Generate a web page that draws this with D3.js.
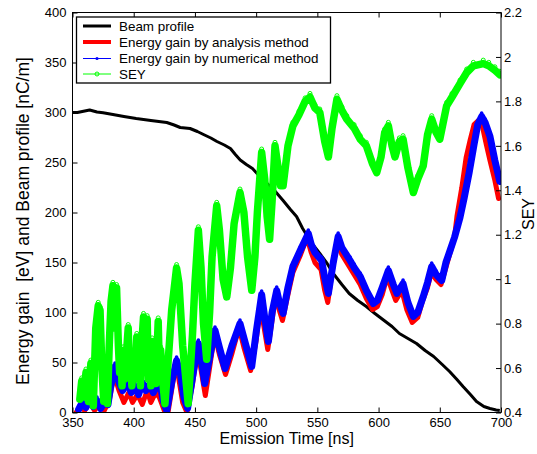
<!DOCTYPE html>
<html><head><meta charset="utf-8">
<script src="https://cdn.jsdelivr.net/npm/d3@7"></script>
<style>
body{margin:0;background:#fff}
text{font-family:"Liberation Sans",Arial,Helvetica,sans-serif;fill:#000}
</style>
</head><body>
<svg id="chart" width="537" height="454"></svg>
<script>
// ---------------- data ----------------
const xTicks = [350, 400, 450, 500, 550, 600, 650, 700];
const yLeftTicks = [0, 50, 100, 150, 200, 250, 300, 350, 400];
const yRightTicks = [0.4, 0.6, 0.8, 1.0, 1.2, 1.4, 1.6, 1.8, 2.0, 2.2];
const legendLabels = ["Beam profile", "Energy gain by analysis method", "Energy gain by numerical method", "SEY"];

// Beam profile [nC/m] (left axis)
const beamT = [350, 354, 358, 364, 370, 375, 383, 392, 402, 414, 427, 433, 438, 446, 452, 457, 463, 468, 474, 479, 483, 487, 492, 497, 500, 503, 509, 515, 522, 528, 533, 538, 545, 552, 558, 563, 570, 576, 583, 590, 597, 604, 611, 617, 624, 631, 638, 645, 652, 658, 664, 669, 675, 680, 686, 691, 696, 699];
const beamV = [300, 300, 301, 302.5, 300.5, 299.8, 298, 296, 294, 292, 290, 287.5, 285, 284, 281, 278, 274.5, 271, 267.5, 264, 258, 252.5, 248, 244, 240, 236, 229, 222, 212, 203, 196, 184, 170, 159, 149, 139, 128, 119, 112, 106, 99, 92.5, 86, 79, 74, 69, 62, 56, 48, 41, 33, 26, 18, 11, 6, 4, 2.5, 2];

// Energy gain by analysis method [eV] (left axis)
const redT = [353, 356, 360, 364, 368, 372, 376, 380, 384, 388, 392, 396, 399, 403, 407, 411, 414, 418, 421, 425, 428, 433, 436, 440, 443.5, 448, 452, 454, 458.5, 462, 466, 470, 475, 480, 486, 490, 495.5, 500, 503.5, 506.5, 509.5, 513, 516, 519, 521.5, 526, 530, 536, 541.5, 545, 548, 553, 556, 558.5, 562, 566, 570, 576, 580, 585, 590, 595, 599, 603, 607, 611, 614, 619, 623, 627.5, 632, 636, 640, 643, 647, 651, 655, 658, 662, 664, 668, 671.5, 674.7, 678, 681.5, 685, 688, 691, 695, 698];
const redV = [0, 6, 2, 10, 2, 8, 2, 12, 38, 22, 10, 20, 10, 18, 8, 22, 10, 20, 15, 2, 0, 38, 40, 10, 0, 28, 62, 50, 17, 45, 78, 58, 38, 58, 85, 65, 42, 72, 108, 85, 63, 92, 118, 102, 92, 118, 140, 157, 175, 160, 150, 143, 122, 110, 140, 170, 158, 146, 138, 128, 114, 103, 106, 118, 136, 122, 112, 122, 103, 90, 95, 112, 125, 140, 133, 128, 145, 158, 175, 196, 225, 255, 272, 288, 292, 285, 268, 252, 232, 214];

// Energy gain by numerical method [eV] (left axis)
const blueT = [355, 358, 361, 364, 367, 370, 373, 376, 379, 381, 384.7, 388, 391, 395, 398, 401, 404, 407, 410, 413, 416, 419, 421.5, 424, 427, 431, 435, 438, 441, 444, 448, 452.8, 455, 458, 462, 466.4, 470, 474.6, 480, 486.8, 491, 496.4, 500, 504.5, 507, 510, 513, 516.8, 519, 522, 526, 530, 536, 542.6, 545, 548, 553.5, 556, 559, 563, 567, 570, 576.7, 580, 585, 590, 595.7, 599, 603, 608, 612, 615, 620, 624, 628.4, 632, 636.5, 640, 643.4, 647, 651.6, 655, 658.4, 662, 666.5, 670, 674, 678, 681, 684.2, 687, 691, 695, 699];
const blueV = [3, 10, 5, 14, 6, 12, 4, 10, 8, 25, 46, 30, 22, 30, 20, 26, 18, 30, 22, 28, 20, 27, 29, 12, 2, 30, 52, 40, 15, 4, 35, 69, 55, 29, 55, 82, 65, 44, 66, 89, 70, 46, 80, 118, 95, 71, 100, 122, 110, 99, 125, 146, 162, 179, 168, 160, 152, 135, 119, 150, 176, 165, 152, 145, 136, 122, 109, 112, 125, 142, 128, 119, 129, 110, 96, 100, 116, 130, 146, 138, 132, 150, 162, 175, 195, 215, 240, 268, 288, 296, 290, 276, 252, 231];

// SEY (right axis)
const seyT = [356, 357.5, 359, 361, 363, 365, 367, 369, 371, 372.5, 374, 375.5, 377, 378.5, 380, 381.5, 383, 384.5, 386, 387.5, 388.5, 389.5, 390.5, 391.5, 392.5, 393.5, 395.5, 396.5, 397.5, 398.5, 400, 401, 402.5, 403.5, 404.5, 405.5, 406.5, 408, 409, 410, 411, 412, 413, 414, 415, 416, 417, 418, 420, 421, 422, 423.5, 425.5, 428, 431, 435, 437, 440, 444.5, 448, 450, 452.8, 455, 457, 459.6, 462, 464, 467.8, 470, 473, 476, 479, 482, 486.8, 490, 493, 496.4, 499, 501, 504.5, 507, 509, 511, 513, 515.4, 518, 520, 522, 526, 530, 535, 540, 544, 548, 552, 556, 559, 562, 566, 570, 574, 580, 585, 590, 595, 598.5, 602, 605, 608, 611, 613.4, 617, 620, 624, 628.4, 632, 636.5, 640, 643.4, 647, 650, 655.6, 660, 666.5, 672, 677.4, 685.5, 690, 695, 699];
const seyV = [0.46, 0.54, 0.47, 0.58, 0.45, 0.62, 0.43, 0.78, 0.88, 0.86, 0.60, 0.45, 0.62, 0.44, 0.70, 0.90, 0.97, 0.78, 0.96, 0.70, 0.58, 0.66, 0.52, 0.68, 0.55, 0.62, 0.78, 0.58, 0.66, 0.52, 0.64, 0.56, 0.74, 0.55, 0.62, 0.52, 0.70, 0.83, 0.58, 0.70, 0.82, 0.55, 0.66, 0.52, 0.72, 0.56, 0.66, 0.53, 0.81, 0.58, 0.68, 0.55, 0.44, 0.62, 0.86, 1.05, 0.98, 0.70, 0.44, 0.75, 0.98, 1.22, 1.05, 0.80, 0.64, 0.85, 1.10, 1.33, 1.22, 1.00, 0.92, 1.05, 1.25, 1.39, 1.30, 1.10, 0.95, 1.10, 1.30, 1.57, 1.45, 1.28, 1.18, 1.35, 1.60, 1.50, 1.42, 1.42, 1.60, 1.69, 1.74, 1.80, 1.82, 1.77, 1.75, 1.62, 1.55, 1.68, 1.81, 1.76, 1.72, 1.68, 1.63, 1.60, 1.52, 1.48, 1.55, 1.66, 1.69, 1.60, 1.55, 1.62, 1.63, 1.50, 1.39, 1.45, 1.51, 1.65, 1.72, 1.66, 1.63, 1.78, 1.82, 1.88, 1.93, 1.96, 1.97, 1.96, 1.94, 1.92];

// ---------------- drawing ----------------
const W = 537, H = 454;
const plot = {left: 72.5, right: 501, top: 12.5, bottom: 412.5};
const svg = d3.select("#chart");

const x = d3.scaleLinear().domain([350, 700]).range([plot.left, plot.right]);
const yL = d3.scaleLinear().domain([0, 400]).range([plot.bottom, plot.top]);
const yR = d3.scaleLinear().domain([0.4, 2.2]).range([plot.bottom, plot.top]);

svg.append("rect").attr("width", W).attr("height", H).attr("fill", "#fff");

svg.append("defs").append("clipPath").attr("id", "clip")
  .append("rect").attr("x", plot.left).attr("y", plot.top - 2)
  .attr("width", plot.right - plot.left).attr("height", plot.bottom - plot.top + 2);

const zip = (a, b) => a.map((v, i) => [v, b[i]]);
const beam = zip(beamT, beamV), red = zip(redT, redV), blue = zip(blueT, blueV), sey = zip(seyT, seyV);

const lineL = d3.line().x(d => x(d[0])).y(d => yL(d[1]));
const lineR = d3.line().x(d => x(d[0])).y(d => yR(d[1]));

const g = svg.append("g").attr("clip-path", "url(#clip)");

g.append("path").datum(beam).attr("d", lineL)
  .attr("fill", "none").attr("stroke", "#000").attr("stroke-width", 3)
  .attr("stroke-linejoin", "round");

g.append("path").datum(red).attr("d", lineL)
  .attr("fill", "none").attr("stroke", "#ff0000").attr("stroke-width", 5)
  .attr("stroke-linejoin", "round").attr("stroke-linecap", "round");

g.append("path").datum(blue).attr("d", lineL)
  .attr("fill", "none").attr("stroke", "#0000ff").attr("stroke-width", 7)
  .attr("stroke-linejoin", "round").attr("stroke-linecap", "round");
g.selectAll("circle.bdot").data(blue).enter().append("circle").attr("class", "bdot")
  .attr("cx", d => x(d[0])).attr("cy", d => yL(d[1]) - 3.5).attr("r", 1.8).attr("fill", "#0000ff");

g.append("path").datum(sey).attr("d", lineR)
  .attr("fill", "none").attr("stroke", "#00ff00").attr("stroke-width", 7.5)
  .attr("stroke-linejoin", "round").attr("stroke-linecap", "round");
g.selectAll("circle.gdot").data(sey).enter().append("circle").attr("class", "gdot")
  .attr("cx", d => x(d[0])).attr("cy", d => yR(d[1]) - 3.5).attr("r", 2)
  .attr("fill", "none").attr("stroke", "#00ff00").attr("stroke-width", 1);

// ---------------- axes ----------------
const tickFont = "13px";
function styleAxis(sel) {
  sel.select(".domain").remove();
  sel.selectAll(".tick line").attr("stroke", "#000").attr("stroke-width", 1);
  sel.selectAll(".tick text").style("font-size", tickFont).attr("fill", "#000");
}

svg.append("g").attr("transform", `translate(0,${plot.bottom})`)
  .call(d3.axisBottom(x).tickValues(xTicks).tickSize(-5).tickPadding(5).tickFormat(d3.format("d")))
  .call(styleAxis);
svg.append("g").attr("transform", `translate(0,${plot.top})`)
  .call(d3.axisTop(x).tickValues(xTicks).tickSize(-5).tickFormat(""))
  .call(styleAxis);
svg.append("g").attr("transform", `translate(${plot.left},0)`)
  .call(d3.axisLeft(yL).tickValues(yLeftTicks).tickSize(-5).tickPadding(6).tickFormat(d3.format("d")))
  .call(styleAxis);
svg.append("g").attr("transform", `translate(${plot.right},0)`)
  .call(d3.axisRight(yR).tickValues(yRightTicks).tickSize(-5).tickPadding(3).tickFormat(d => String(+d.toFixed(1))))
  .call(styleAxis);

svg.append("rect").attr("x", plot.left).attr("y", plot.top)
  .attr("width", plot.right - plot.left).attr("height", plot.bottom - plot.top)
  .attr("fill", "none").attr("stroke", "#000").attr("stroke-width", 1);

// axis labels
svg.append("text").attr("x", (plot.left + plot.right) / 2).attr("y", 444)
  .attr("text-anchor", "middle").style("font-size", "16px").text("Emission Time [ns]");
svg.append("text").attr("transform", "translate(29,221) rotate(-90)")
  .attr("text-anchor", "middle").style("font-size", "17.5px").attr("xml:space", "preserve")
  .text("Energy gain  [eV] and Beam profile [nC/m]");
svg.append("text").attr("transform", "translate(534,214) rotate(-90)")
  .attr("text-anchor", "middle").style("font-size", "16px").text("SEY");

// ---------------- legend ----------------
const lg = svg.append("g");
lg.append("rect").attr("x", 76.5).attr("y", 17).attr("width", 254).attr("height", 66)
  .attr("fill", "#fff").attr("stroke", "#000").attr("stroke-width", 1.3);
const rowY = [26, 42, 58.5, 74];
const lStyles = [
  {c: "#000", w: 3}, {c: "#ff0000", w: 4}, {c: "#0000ff", w: 1}, {c: "#00ff00", w: 1}
];
legendLabels.forEach((lab, i) => {
  lg.append("line").attr("x1", 83).attr("x2", 111).attr("y1", rowY[i]).attr("y2", rowY[i])
    .attr("stroke", lStyles[i].c).attr("stroke-width", lStyles[i].w);
  lg.append("text").attr("x", 119).attr("y", rowY[i]).attr("dy", "0.35em")
    .style("font-size", "13.4px").text(lab);
});
lg.append("circle").attr("cx", 97).attr("cy", rowY[2]).attr("r", 1.6).attr("fill", "#0000ff");
lg.append("circle").attr("cx", 97).attr("cy", rowY[3]).attr("r", 2).attr("fill", "none")
  .attr("stroke", "#00ff00").attr("stroke-width", 1);
</script>
</body></html>
